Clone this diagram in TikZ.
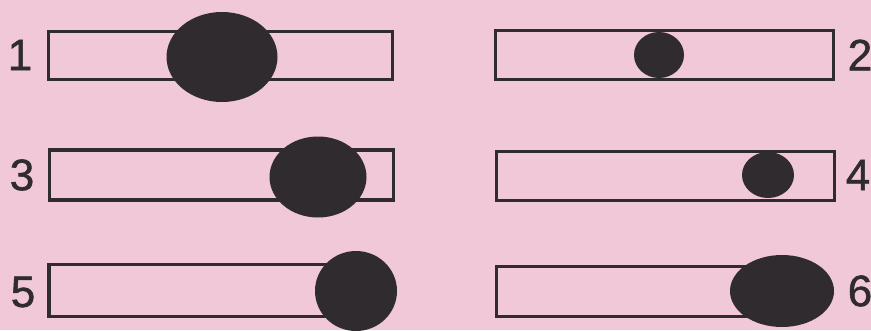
\documentclass[tikz,border=0pt]{standalone}
\usepackage{fontspec}
\setmainfont{Liberation Sans}
\newfontfamily\numfont[FakeBold=1.2]{Liberation Sans}
\usetikzlibrary{shapes.geometric}
\definecolor{bgpink}{HTML}{F0C8D8}
\definecolor{ink}{HTML}{2F2B2F}
\tikzset{
  bar/.style={draw=ink, line width=3.2pt, fill=bgpink, rectangle, inner sep=0pt},
  blob/.style={fill=ink, ellipse, inner sep=0pt},
  num/.style={text=ink, font=\numfont\fontsize{44}{44}\selectfont, inner sep=0pt}
}
\begin{document}
\begin{tikzpicture}[x=1pt,y=-1pt]
\fill[bgpink] (0,0) rectangle (871,330);
\useasboundingbox (0,0) rectangle (871,330);
% bars
\node[bar, minimum width=344pt, minimum height=48pt] (b1) at (220.5,55.5) {};
\node[bar, minimum width=338pt, minimum height=49pt] (b2) at (664.5,55) {};
\node[bar, minimum width=344pt, minimum height=50pt] (b3) at (221.5,175) {};
\node[bar, minimum width=338pt, minimum height=49pt] (b4) at (665.5,176) {};
\node[bar, minimum width=300pt, minimum height=52pt] (b5) at (199,290.5) {};
\node[bar, minimum width=294pt, minimum height=50pt] (b6) at (643.5,291.5) {};
% blobs
\node[blob, minimum width=111pt, minimum height=90pt] (d1) at (222,57) {};
\node[blob, minimum width=50pt, minimum height=46pt] (d2) at (659,55) {};
\node[blob, minimum width=97pt, minimum height=81pt] (d3) at (318,177) {};
\node[blob, minimum width=52pt, minimum height=46pt] (d4) at (768,175) {};
\node[blob, minimum width=82pt, minimum height=80pt] (d5) at (356,291) {};
\node[blob, minimum width=104pt, minimum height=72pt] (d6) at (782,291) {};
% labels
\node[num] (n1) at (20,55) {1};
\node[num] (n2) at (860,55) {2};
\node[num] (n3) at (22,175) {3};
\node[num] (n4) at (858,175) {4};
\node[num] (n5) at (23,292) {5};
\node[num] (n6) at (860,291) {6};
\end{tikzpicture}
\end{document}
